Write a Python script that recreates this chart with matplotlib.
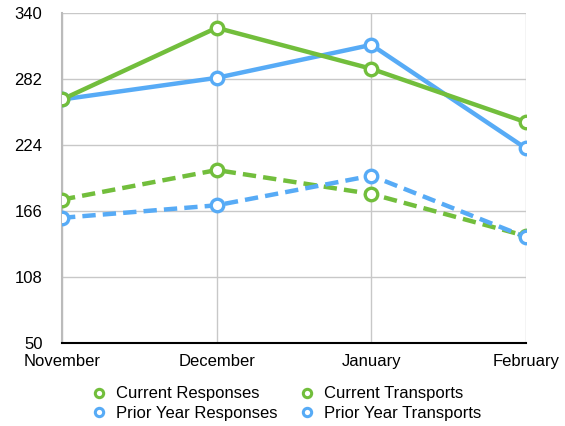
import matplotlib
matplotlib.use("Agg")
import matplotlib.pyplot as plt
from matplotlib.lines import Line2D

plt.rcParams['font.family'] = ['Liberation Sans', 'DejaVu Sans']

months = ["November", "December", "January", "February"]
current_responses = [176, 202, 181, 144]
prior_responses = [160, 171, 197, 143]
current_transports = [264, 327, 291, 244]
prior_transports = [264, 283, 312, 221]
yticks = [50, 108, 166, 224, 282, 340]

green = "#72BE3C"
blue = "#57ABF6"

fig = plt.figure(figsize=(5.65, 4.26), dpi=100)
ax = fig.add_axes([62/565, 1-343/426, (526-62)/565, (343-13)/426])

x = list(range(len(months)))
series = [
    (current_responses, green, "--", "Current Responses", 3),
    (prior_responses, blue, "--", "Prior Year Responses", 4),
    (prior_transports, blue, "-", "Prior Year Transports", 5),
    (current_transports, green, "-", "Current Transports", 6),
]
for vals, col, ls, lab, z in series:
    ln, = ax.plot(x, vals, color=col, lw=3.2, ls=ls, zorder=z, solid_capstyle='butt')
    if ls == "--":
        ln.set_dashes([3.0, 1.6])
for vals, col, ls, lab, z in series:
    ax.plot(x, vals, ls='none', marker='o', ms=9, mfc='white', mec=col, mew=2.4, zorder=z + 5)

ax.set_xlim(0, 3)
ax.set_ylim(50, 340)
ax.set_yticks(yticks)
ax.set_yticklabels([str(t) for t in yticks], fontsize=12)
ax.set_xticks(x)
ax.set_xticklabels(months, fontsize=12)
ax.tick_params(axis='both', length=0)
ax.tick_params(axis='y', pad=14)
ax.tick_params(axis='x', pad=8)
ax.grid(True, color="#C8C8C8", lw=1.0, zorder=0)
ax.set_axisbelow(True)
for s in ['top', 'right']:
    ax.spines[s].set_visible(False)
ax.spines['left'].set_color("#BBBBBB")
ax.spines['left'].set_linewidth(1.5)
ax.spines['bottom'].set_color("black")
ax.spines['bottom'].set_linewidth(1.5)

handles = [Line2D([], [], ls='none', marker='o', ms=6, mfc='white', mec=c, mew=2.2)
           for c in [green, blue, green, blue]]
labels = ["Current Responses", "Prior Year Responses", "Current Transports", "Prior Year Transports"]
fig.legend(handles, labels, ncol=2, loc='center', bbox_to_anchor=(286/565, 1-403.5/426),
           frameon=False, fontsize=12, handletextpad=0.5, columnspacing=1.3,
           labelspacing=0.25, handlelength=1.0)

fig.savefig("out.png", dpi=100)
